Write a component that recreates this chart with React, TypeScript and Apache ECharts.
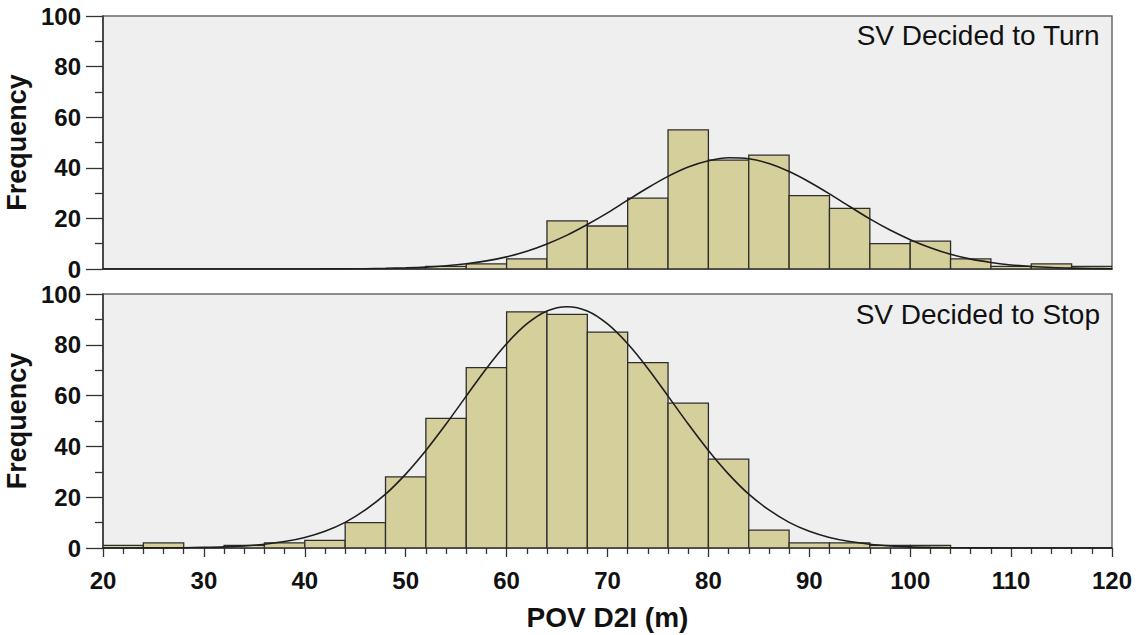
import React, { useEffect, useRef } from "react";
import * as echarts from "echarts";

// Histogram bins (width 4 m) — lower edges
const binStarts = [20, 24, 28, 32, 36, 40, 44, 48, 52, 56, 60, 64, 68, 72, 76, 80, 84, 88, 92, 96, 100, 104, 108, 112, 116];
const binWidth = 4;
// SV decided to turn — counts per bin
const turnCounts = [0, 0, 0, 0, 0, 0, 0, 0, 1, 2, 4, 19, 17, 28, 55, 43, 45, 29, 24, 10, 11, 4, 1, 2, 1];
// SV decided to stop — counts per bin
const stopCounts = [1, 2, 0, 1, 2, 3, 10, 28, 51, 71, 93, 92, 85, 73, 57, 35, 7, 2, 2, 1, 1, 0, 0, 0, 0];

// Fitted normal curves, every 2 m
const curveX = [20, 22, 24, 26, 28, 30, 32, 34, 36, 38, 40, 42, 44, 46, 48, 50, 52, 54, 56, 58, 60, 62, 64, 66, 68, 70, 72, 74, 76, 78, 80, 82, 84, 86, 88, 90, 92, 94, 96, 98, 100, 102, 104, 106, 108, 110, 112, 114, 116, 118, 120];
const turnCurve = [0, 0, 0, 0, 0, 0, 0, 0, 0, 0, 0.01, 0.03, 0.06, 0.12, 0.24, 0.44, 0.76, 1.27, 2.05, 3.2, 4.8, 7.0, 9.9, 13.4, 17.6, 22.2, 27.2, 32.1, 36.6, 40.3, 42.8, 44.0, 43.6, 41.7, 38.5, 34.4, 29.7, 24.7, 19.8, 15.4, 11.6, 8.4, 5.8, 3.9, 2.6, 1.6, 1.0, 0.58, 0.33, 0.18, 0.1];
const stopCurve = [0, 0.01, 0.03, 0.06, 0.12, 0.24, 0.45, 0.84, 1.48, 2.53, 4.17, 6.6, 10.1, 15.0, 21.2, 29.1, 38.4, 48.8, 59.8, 70.7, 80.4, 88.2, 93.3, 95.0, 93.3, 88.2, 80.4, 70.7, 59.8, 48.8, 38.4, 29.1, 21.2, 15.0, 10.1, 6.6, 4.17, 2.53, 1.48, 0.84, 0.45, 0.24, 0.12, 0.06, 0.03, 0.01, 0, 0, 0, 0, 0];

const xTicks = { min: 20, max: 120, interval: 10 };
const yTicks = { min: 0, max: 100, interval: 20 };

const panelLabels = ["SV Decided to Turn", "SV Decided to Stop"];

const FONT = "'Liberation Sans', Arial, sans-serif";
const BAR_FILL = "#d4cf9b";
const BAR_STROKE = "#2e2e2e";

function histData(counts: number[]) {
  return binStarts
    .map((s, i) => [s, s + binWidth, counts[i]])
    .filter((d) => d[2] > 0);
}

function curveData(vals: number[]) {
  return curveX.map((x, i) => [x, vals[i]]);
}

const renderBar = (params: any, api: any) => {
  const p0 = api.coord([api.value(0), api.value(2)]);
  const p1 = api.coord([api.value(1), 0]);
  return {
    type: "rect",
    shape: { x: p0[0], y: p0[1], width: p1[0] - p0[0], height: p1[1] - p0[1] },
    style: { fill: BAR_FILL, stroke: BAR_STROKE, lineWidth: 1.3 },
  };
};

export default function App() {
  const ref = useRef<HTMLDivElement>(null);
  useEffect(() => {
    if (!ref.current) return;
    const chart = echarts.init(ref.current, undefined, { renderer: "svg" });
    const gridCommon = {
      left: 103,
      width: 1009,
      show: true,
      containLabel: false,
      outerBoundsMode: "none",
      backgroundColor: "#efefef",
      borderColor: "#6a6a6a",
      borderWidth: 1.5,
    };
    const yAxisCommon = {
      type: "value",
      min: yTicks.min,
      max: yTicks.max,
      interval: yTicks.interval,
      name: "Frequency",
      nameLocation: "middle",
      nameGap: 60,
      nameTextStyle: { fontFamily: FONT, fontSize: 27, fontWeight: "bold", color: "#111" },
      axisLine: { show: true, onZero: false, lineStyle: { color: "#333", width: 1.5 } },
      axisTick: { show: true, inside: false, length: 17, lineStyle: { color: "#333", width: 1.3 } },
      minorTick: { show: true, splitNumber: 2, length: 8, lineStyle: { color: "#333", width: 1.3 } },
      splitLine: { show: false },
      axisLabel: { show: true, inside: false, fontFamily: FONT, fontSize: 24, fontWeight: "bold", color: "#111", margin: 22 },
    };
    const option: any = {
      animation: false,
      backgroundColor: "#ffffff",
      grid: [
        { ...gridCommon, top: 16, height: 253 },
        { ...gridCommon, top: 294, height: 254 },
      ],
      xAxis: [
        {
          type: "value",
          gridIndex: 0,
          min: xTicks.min,
          max: xTicks.max,
          interval: xTicks.interval,
          axisLine: { show: true, onZero: false, lineStyle: { color: "#333", width: 1.5 } },
          axisTick: { show: false },
          axisLabel: { show: false },
          splitLine: { show: false },
        },
        {
          type: "value",
          gridIndex: 1,
          min: xTicks.min,
          max: xTicks.max,
          interval: xTicks.interval,
          name: "POV D2I (m)",
          nameLocation: "middle",
          nameGap: 55,
          nameTextStyle: { fontFamily: FONT, fontSize: 28, fontWeight: "bold", color: "#111" },
          axisLine: { show: true, onZero: false, lineStyle: { color: "#333", width: 1.5 } },
          axisTick: { show: true, length: 9, lineStyle: { color: "#333", width: 1.3 } },
          minorTick: { show: true, splitNumber: 5, length: 6, lineStyle: { color: "#333", width: 1.3 } },
          axisLabel: { fontFamily: FONT, fontSize: 24, fontWeight: "bold", color: "#111", margin: 20 },
          splitLine: { show: false },
        },
      ],
      yAxis: [
        { ...yAxisCommon, gridIndex: 0 },
        { ...yAxisCommon, gridIndex: 1 },
      ],
      series: [
        {
          type: "custom",
          xAxisIndex: 0,
          yAxisIndex: 0,
          renderItem: renderBar,
          encode: { x: [0, 1], y: 2 },
          data: histData(turnCounts),
          clip: true,
        },
        {
          type: "custom",
          xAxisIndex: 1,
          yAxisIndex: 1,
          renderItem: renderBar,
          encode: { x: [0, 1], y: 2 },
          data: histData(stopCounts),
          clip: true,
        },
        {
          type: "line",
          xAxisIndex: 0,
          yAxisIndex: 0,
          data: curveData(turnCurve),
          smooth: 0.3,
          showSymbol: false,
          symbol: "none",
          lineStyle: { color: "#1e1e1e", width: 1.6 },
          z: 5,
        },
        {
          type: "line",
          xAxisIndex: 1,
          yAxisIndex: 1,
          data: curveData(stopCurve),
          smooth: 0.3,
          showSymbol: false,
          symbol: "none",
          lineStyle: { color: "#1e1e1e", width: 1.6 },
          z: 5,
        },
      ],
      graphic: [
        {
          type: "text",
          right: 38,
          top: 21,
          style: { text: panelLabels[0], fontFamily: FONT, fontSize: 28, fill: "#111" },
          z: 10,
        },
        {
          type: "text",
          right: 38,
          top: 300,
          style: { text: panelLabels[1], fontFamily: FONT, fontSize: 28, fill: "#111" },
          z: 10,
        },
      ],
    };
    chart.setOption(option);
    return () => chart.dispose();
  }, []);
  return (
    <div
      ref={ref}
      style={{ position: "fixed", left: 0, top: 0, width: 1138, height: 635, background: "#fff" }}
    />
  );
}
